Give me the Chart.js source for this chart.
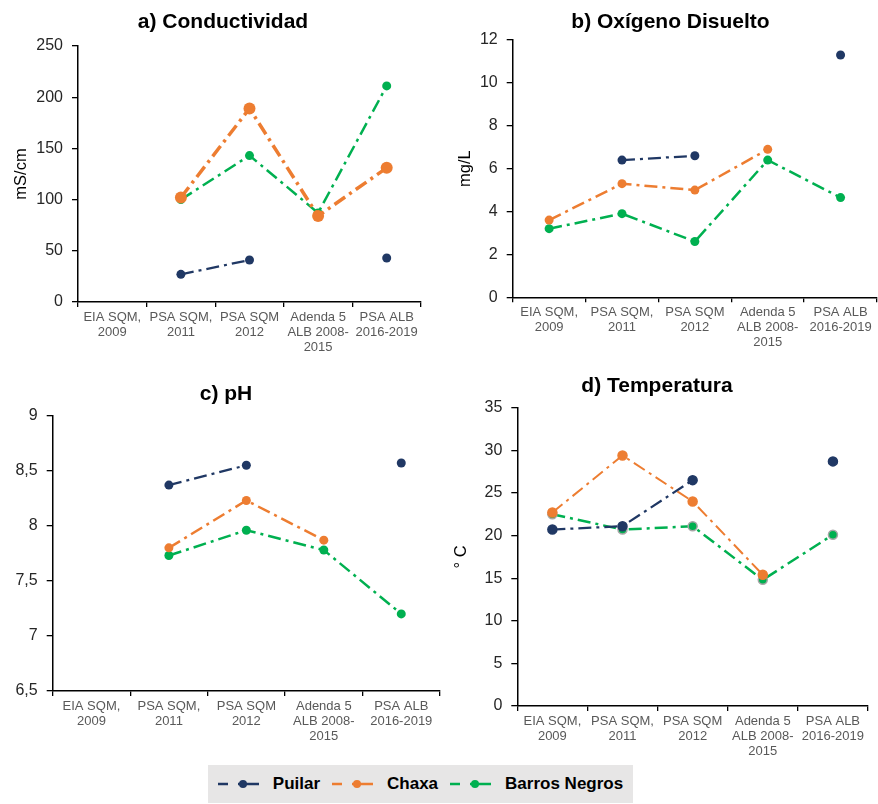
<!DOCTYPE html>
<html>
<head>
<meta charset="utf-8">
<script src="https://cdn.jsdelivr.net/npm/chart.js@4"></script>
<style>
  html, body { margin: 0; padding: 0; background: #fff; overflow: hidden; }
  #wrap { position: relative; width: 878px; height: 804px; overflow: hidden; }
  .box { position: absolute; }
  #legend {
    position: absolute; left: 208px; top: 765px; width: 425px; height: 38px;
    background: #e7e6e6; display: flex; align-items: center; justify-content: center;
    font-family: "Liberation Sans", Arial, sans-serif; font-weight: bold; font-size: 17px; color: #000;
  }
  #legend .item { display: flex; align-items: center; margin: 0 6px; }
  #legend canvas { margin-right: 14px; }
</style>
</head>
<body>
<div id="wrap">
  <div class="box" style="left:0;top:0;width:446px;height:360px"><canvas id="chA"></canvas></div>
  <div class="box" style="left:450px;top:0;width:441px;height:360px"><canvas id="chB"></canvas></div>
  <div class="box" style="left:0;top:370px;width:452px;height:385px"><canvas id="chC"></canvas></div>
  <div class="box" style="left:440px;top:370px;width:434px;height:385px"><canvas id="chD"></canvas></div>
  <div id="legend"></div>
</div>
<script>
// categorías (eje x)
const categories = [
    ['EIA SQM,', '2009'],
    ['PSA SQM,', '2011'],
    ['PSA SQM', '2012'],
    ['Adenda 5', 'ALB 2008-', '2015'],
    ['PSA ALB', '2016-2019']
];
const seriesNames = ['Puilar', 'Chaxa', 'Barros Negros'];
const seriesColors = ['#203864', '#ED7D31', '#00B050'];

// a) Conductividad (mS/cm)
const condPuilar = [null, 27, 41, null, 43];
const condChaxa  = [null, 102, 189, 84, 131];
const condBarros = [null, 100, 143, 87, 211];
const condTicks = [0, 250, 50];

// b) Oxígeno Disuelto (mg/L)
const oxiPuilar = [null, 6.4, 6.6, null, 11.3];
const oxiChaxa  = [3.6, 5.3, 5.0, 6.9, null];
const oxiBarros = [3.2, 3.9, 2.6, 6.4, 4.65];
const oxiTicks = [0, 12, 2];

// c) pH
const phPuilar = [null, 8.37, 8.55, null, 8.57];
const phChaxa  = [null, 7.80, 8.23, 7.87, null];
const phBarros = [null, 7.73, 7.96, 7.78, 7.20];
const phTicks = [6.5, 9, 0.5];

// d) Temperatura (°C)
const tempPuilar = [20.7, 21.1, 26.5, null, 28.7];
const tempChaxa  = [22.7, 29.4, 24.0, 15.4, null];
const tempBarros = [22.5, 20.7, 21.1, 14.8, 20.1];
const tempTicks = [0, 35, 5];

const FONT = '"Liberation Sans", Arial, sans-serif';
const DASH = [13, 5, 3, 5];
const Y_TITLE_SIZE = 16.5;

function makeDatasets(values, widths, radii, borders) {
    return values.map((v, i) => ({
        label: seriesNames[i],
        data: v,
        borderColor: seriesColors[i],
        backgroundColor: seriesColors[i],
        borderWidth: widths[i],
        borderDash: DASH,
        pointRadius: radii[i],
        pointHoverRadius: radii[i],
        pointBackgroundColor: seriesColors[i],
        pointBorderColor: borders ? borders[i] : seriesColors[i],
        pointBorderWidth: borders ? 1.5 : 0,
        tension: 0,
        spanGaps: false
    }));
}

function makeChart(id, title, yTitle, ticks, datasets, cfg) {
    const ctx = document.getElementById(id).getContext('2d');
    return new Chart(ctx, {
        type: 'line',
        data: { labels: categories, datasets: datasets },
        options: {
            responsive: true,
            maintainAspectRatio: false,
            animation: false,
            layout: { padding: { left: cfg.padLeft, right: cfg.padRight, top: 0, bottom: 0 } },
            plugins: {
                legend: { display: false },
                tooltip: { enabled: false },
                title: {
                    display: true,
                    text: title,
                    color: '#000',
                    font: { family: FONT, size: 21, weight: 'bold', lineHeight: 1.2 },
                    padding: { top: cfg.titleTop, bottom: cfg.titleBottom }
                }
            },
            scales: {
                x: {
                    offset: true,
                    grid: { display: true, offset: true, drawOnChartArea: false, drawTicks: true, tickLength: 5, color: '#000', lineWidth: 1.3 },
                    border: { display: true, color: '#000', width: 1.5 },
                    ticks: { color: '#595959', padding: 3, maxRotation: 0, autoSkip: false, font: { family: FONT, size: 13, lineHeight: 1.15 } },
                    afterFit: s => { s.height = cfg.xHeight; }
                },
                y: {
                    min: ticks[0],
                    max: ticks[1],
                    grid: { display: true, drawOnChartArea: false, drawTicks: true, tickLength: 6, color: '#000', lineWidth: 1.3 },
                    border: { display: true, color: '#000', width: 1.5 },
                    ticks: {
                        stepSize: ticks[2],
                        color: '#262626',
                        padding: 9,
                        font: { family: FONT, size: 16 },
                        callback: v => String(v).replace('.', ',')
                    },
                    title: {
                        display: !!yTitle,
                        text: yTitle,
                        color: '#000',
                        font: { family: FONT, size: Y_TITLE_SIZE, lineHeight: 1.2 },
                        padding: { top: cfg.yTitleX - cfg.padLeft - Y_TITLE_SIZE * 0.6, bottom: 0 }
                    },
                    afterFit: s => { s.width = cfg.plotLeft - cfg.padLeft; }
                }
            }
        }
    });
}

makeChart('chA', 'a) Conductividad', 'mS/cm', condTicks,
    makeDatasets([condPuilar, condChaxa, condBarros], [2.25, 3.5, 2.5], [4.5, 6, 4.5]),
    { padLeft: 25, padRight: 25, titleTop: 9.4, titleBottom: 11.4, xHeight: 58, plotLeft: 78, yTitleX: 21.7 });

makeChart('chB', 'b) Oxígeno Disuelto', 'mg/L', oxiTicks,
    makeDatasets([oxiPuilar, oxiChaxa, oxiBarros], [2.25, 2.5, 2.5], [4.5, 4.5, 4.5]),
    { padLeft: 14, padRight: 14, titleTop: 10.1, titleBottom: 4.7, xHeight: 62.7, plotLeft: 62.7, yTitleX: 15 });

makeChart('chC', 'c) pH', '', phTicks,
    makeDatasets([phPuilar, phChaxa, phBarros], [2.25, 2.5, 2.5], [4.5, 4.5, 4.5]),
    { padLeft: 12, padRight: 12, titleTop: 12.1, titleBottom: 8.4, xHeight: 64, plotLeft: 52.7, yTitleX: 0 });

makeChart('chD', 'd) Temperatura', '° C', tempTicks,
    makeDatasets([tempPuilar, tempChaxa, tempBarros], [2.25, 2, 2.5], [4.5, 4.5, 4.5], ['#203864', '#ED7D31', '#a6a6a6']),
    { padLeft: 2.3, padRight: 2.3, titleTop: 3.4, titleBottom: 9.1, xHeight: 49, plotLeft: 77.3, yTitleX: 21.7 });

// leyenda común
const legend = document.getElementById('legend');
seriesNames.forEach((name, i) => {
    const item = document.createElement('div');
    item.className = 'item';
    const c = document.createElement('canvas');
    c.width = 41; c.height = 12;
    const g = c.getContext('2d');
    g.strokeStyle = seriesColors[i];
    g.fillStyle = seriesColors[i];
    g.lineWidth = 2.5;
    g.beginPath();
    g.moveTo(0, 6); g.lineTo(10, 6);
    g.moveTo(20, 6); g.lineTo(41, 6);
    g.stroke();
    g.beginPath();
    g.arc(25, 6, 4, 0, Math.PI * 2);
    g.fill();
    const t = document.createElement('span');
    t.textContent = name;
    item.appendChild(c);
    item.appendChild(t);
    legend.appendChild(item);
});
</script>
</body>
</html>
